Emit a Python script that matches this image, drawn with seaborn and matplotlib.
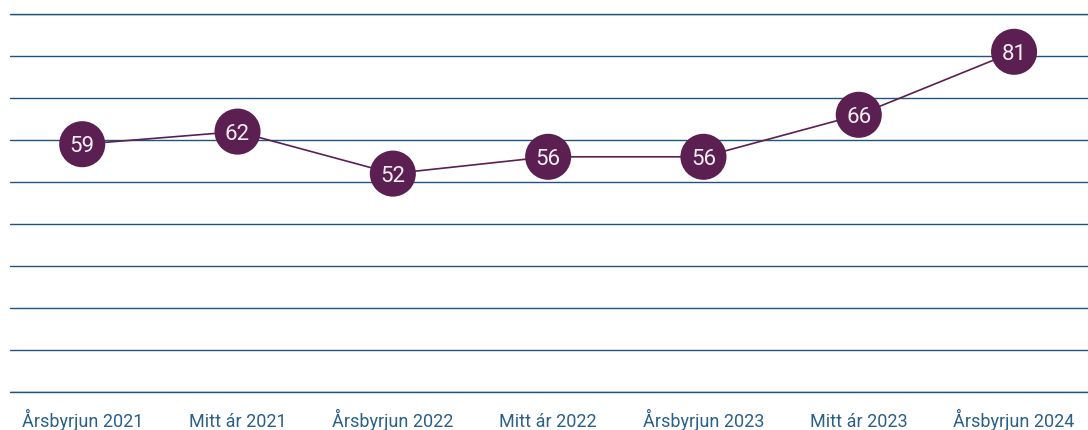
import matplotlib
matplotlib.use("Agg")
import matplotlib.pyplot as plt
import seaborn as sns
import pandas as pd

categories = ["Årsbyrjun 2021", "Mitt ár 2021", "Årsbyrjun 2022",
              "Mitt ár 2022", "Årsbyrjun 2023", "Mitt ár 2023", "Årsbyrjun 2024"]
values = [59, 62, 52, 56, 56, 66, 81]
yticks = [0, 10, 20, 30, 40, 50, 60, 70, 80, 90]

sns.set_theme(style="white")
plt.rcParams['font.family'] = ['Roboto', 'DejaVu Sans']

purple = "#5b1f52"
grid_blue = "#1f5580"
label_blue = "#2b6088"

df = pd.DataFrame({"cat": categories, "val": values, "x": range(len(categories))})

fig = plt.figure(figsize=(10.88, 4.30), dpi=100)
ax = fig.add_axes([10/1088, 38/430, 1 - 10/1088, (392-14)/430])

sns.lineplot(data=df, x="x", y="val", ax=ax, color=purple, linewidth=1.2, zorder=3)
sns.scatterplot(data=df, x="x", y="val", ax=ax, color=purple, s=1100, edgecolor="none", zorder=4)
for xi, v in zip(df["x"], df["val"]):
    ax.text(xi, v, str(v), ha="center", va="center_baseline", color="#f4eef3", fontsize=16,
            zorder=5)

ax.set_ylim(0, 90)
ax.set_xlim(-0.465, 6.476)
ax.set_yticks(yticks)
ax.set_yticklabels([])
ax.yaxis.grid(True, color=grid_blue, linewidth=1.0, zorder=1)
ax.set_axisbelow(True)
ax.set_xticks(list(df["x"]))
ax.set_xticklabels(categories, color=label_blue, fontsize=13, va="baseline")
ax.tick_params(axis="x", length=0, pad=25)
ax.tick_params(axis="y", length=0)
ax.set_xlabel("")
ax.set_ylabel("")
for s in ax.spines.values():
    s.set_visible(False)
ax.axhline(90, color=grid_blue, linewidth=1.0, zorder=1, clip_on=False)
ax.axhline(0, color=grid_blue, linewidth=1.0, zorder=1, clip_on=False)

fig.savefig("out.png", dpi=100)
